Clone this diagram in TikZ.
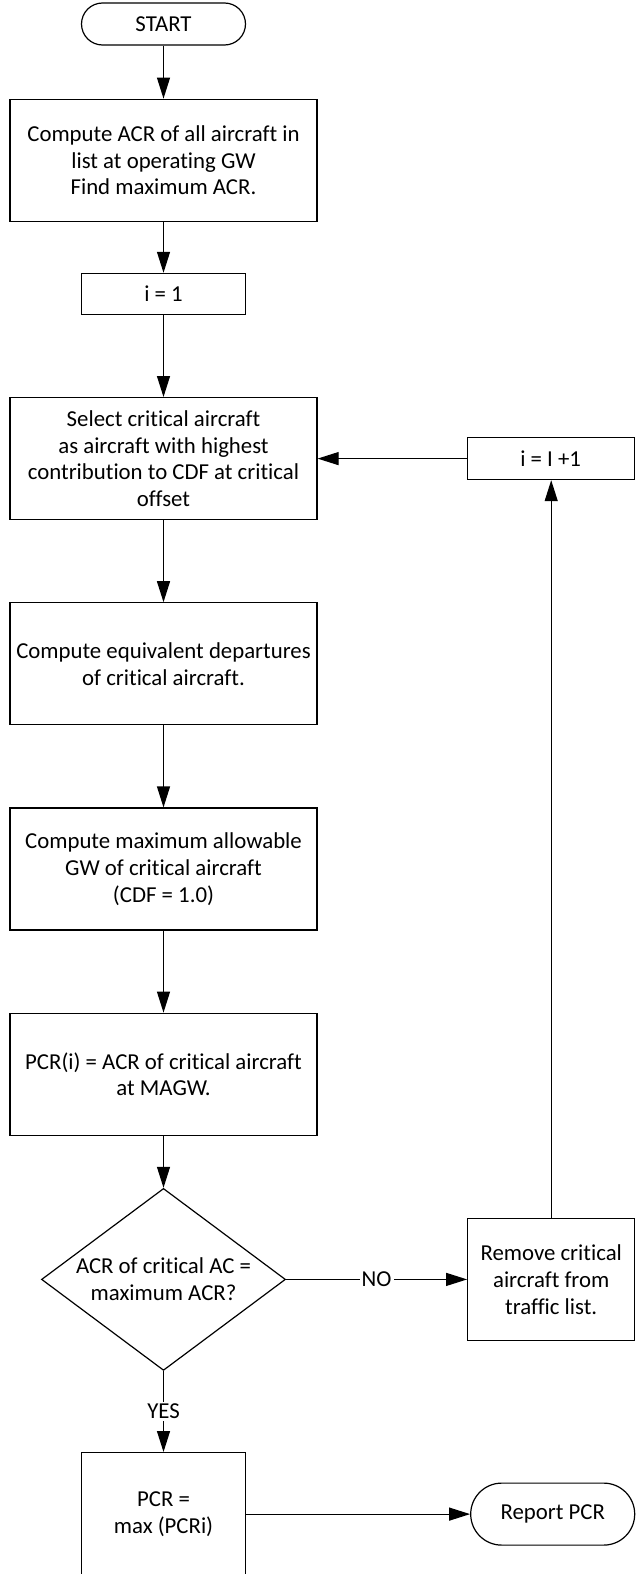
\documentclass[tikz,border=0pt]{standalone}
\usepackage{fontspec}
\setmainfont{Carlito}[Ligatures=NoCommon]
\usetikzlibrary{arrows.meta,positioning,shapes.geometric}

\begin{document}
\begin{tikzpicture}[font=\fontsize{11.4}{13.4}\selectfont,
    >={Triangle[length=10.5pt,width=6.5pt]}, line width=0.6pt,
    stepbox/.style={draw, align=center, inner sep=2pt,
      minimum width=153.5pt, minimum height=61pt},
    smallbox/.style={draw, align=center, inner sep=2pt,
      minimum width=82pt, minimum height=20.5pt},
    term/.style={draw, align=center, inner sep=2pt, minimum width=82pt},
    decision/.style={draw, diamond, aspect=1.34, inner sep=-3pt,
      minimum width=122pt, minimum height=91pt, align=center},
    node distance=41pt]
        \useasboundingbox (0,0) rectangle (318.5pt,-787pt);

        \node (start) [term, rounded corners=10.5pt, minimum height=21pt]
          at (81.75pt,-12pt) {START};
        \node (all) [stepbox, below=26.5pt of start]
          {Compute ACR of all aircraft in\\ list at operating GW\\ Find maximum ACR.};
        \node (i1) [smallbox, below=25.5pt of all] {i = 1};
        \node (select) [stepbox, below=of i1]
          {Select critical aircraft\\ as aircraft with highest\\ contribution to CDF at critical\\ offset};
        \node (equiv) [stepbox, below=of select]
          {Compute equivalent departures\\ of critical aircraft.};
        \node (magw) [stepbox, below=of equiv]
          {Compute maximum allowable\\ GW of critical aircraft\\ (CDF = 1.0)};
        \node (pcri) [stepbox, below=of magw]
          {PCR(i) = ACR of critical aircraft\\ at MAGW.};
        \node (dec) [decision, below=26pt of pcri]
          {ACR of critical AC =\\ maximum ACR?};
        \node (pcr) [smallbox, minimum height=61.5pt, below=40.5pt of dec]
          {PCR =\\ max (PCRi)};

        \node (inc) [smallbox, minimum width=83.5pt, minimum height=21pt,
          right=74.5pt of select] {i = I +1};
        \node (remove) [smallbox, minimum width=83.5pt, minimum height=61pt,
          right=90.5pt of dec] {Remove critical\\ aircraft from\\ traffic list.};
        \node (report) [term, rounded corners=15.5pt, minimum height=31pt,
          right=112pt of pcr] {Report PCR};

        \foreach \a/\b in {start/all,all/i1,i1/select,select/equiv,
                           equiv/magw,magw/pcri,pcri/dec} {
          \draw[->] (\a) -- (\b);
        }
        \draw[->] (dec) -- node[fill=white, inner sep=1pt] {YES} (pcr);
        \draw[->] (dec) -- node[fill=white, inner sep=1pt] {NO} (remove);
        \draw[->] (remove.north) -- (remove.north |- inc.south);
        \draw[->] (inc) -- (select);
        \draw[->] (pcr) -- (report);
      \end{tikzpicture}
\end{document}
